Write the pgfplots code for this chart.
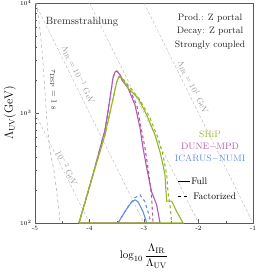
\documentclass[border=0pt]{standalone}
\usepackage{pgfplots}
\pgfplotsset{compat=1.18}
\definecolor{cship}{RGB}{150,184,40}
\definecolor{cdune}{RGB}{175,90,175}
\definecolor{cicar}{RGB}{100,140,230}
\definecolor{cframe}{RGB}{90,90,90}
\begin{document}
\begin{tikzpicture}
\begin{axis}[
  scale only axis, width=218pt, height=220pt,
  xmin=-5, xmax=-1, ymin=100, ymax=10000, ymode=log,
  xtick={-5,-4,-3,-2,-1}, xticklabels={-5,-4,-3,-2,-1},
  minor xtick={-4.5,-3.5,-2.5,-1.5},
  ytick={100,1000,10000},
  tick align=inside, major tick length=4pt, minor tick length=2pt,
  tick pos=left,
  axis line style={cframe, line width=0.5pt},
  every tick/.style={cframe, line width=0.4pt},
  tick label style={font=\fontsize{6.5}{7}\selectfont},
  xlabel={$\log_{10}\displaystyle\frac{\Lambda_{\rm IR}}{\Lambda_{\rm UV}}$},
  xlabel style={at={(axis description cs:0.5,-0.15)}, anchor=center, font=\fontsize{11}{13}\selectfont},
  ylabel={$\Lambda_{\rm UV}(\rm GeV)$},
  ylabel style={at={(axis description cs:-0.115,0.5)}, anchor=center, font=\fontsize{11.5}{13}\selectfont},
  clip=false,
]
% Lambda_IR = const lines
\addplot[gray!55, densely dashed, line width=0.4pt] coordinates {(-3,10000) (-1,100)};
\addplot[gray!55, densely dashed, line width=0.4pt] coordinates {(-4,10000) (-2,100)};
\addplot[gray!55, densely dashed, line width=0.4pt] coordinates {(-5,10000) (-3,100)};
\addplot[gray!55, densely dashed, line width=0.4pt] coordinates {(-5,1000) (-4,100)};
% tau_DSP line
\addplot[gray!75, dashed, line width=0.45pt, smooth] coordinates {
 (-4.975,10000) (-4.908,5690) (-4.853,2851) (-4.785,901) (-4.725,461)
 (-4.651,297) (-4.596,180) (-4.560,131) (-4.541,100)};
% ICARUS-NUMI
\addplot[cicar, line width=1.1pt] coordinates {
 (-3.477,100) (-3.349,127) (-3.226,156) (-3.165,162) (-3.110,156) (-3.018,127) (-2.950,100)};
\addplot[cicar, line width=1.1pt, dashed] coordinates {
 (-3.477,100) (-3.312,137) (-3.165,170) (-3.073,180) (-2.982,156) (-2.927,127) (-2.872,100)};
% DUNE-MPD
\addplot[cdune, line width=1.1pt] coordinates {
 (-4.193,100) (-3.954,256) (-3.716,700) (-3.679,901) (-3.624,1368) (-3.569,2080)
 (-3.532,2360) (-3.495,2410) (-3.440,2215) (-3.404,1995) (-3.294,1687) (-3.165,1183)
 (-3.073,731) (-3.018,481) (-2.950,316) (-2.859,191) (-2.767,146) (-2.706,100) (-4.193,100)};
\addplot[cdune, line width=1.1pt, dashed] coordinates {
 (-4.193,100) (-3.954,256) (-3.716,700) (-3.679,901) (-3.624,1368) (-3.569,2080)
 (-3.532,2360) (-3.495,2400) (-3.440,2215) (-3.385,1995) (-3.275,1687) (-3.134,1183)
 (-2.982,481) (-2.908,273) (-2.859,169) (-2.835,100)};
% SHiP
\addplot[cship, line width=1.1pt] coordinates {
 (-4.193,100) (-3.954,256) (-3.716,631) (-3.593,1183) (-3.501,1914) (-3.459,2138)
 (-3.404,2080) (-3.294,1687) (-3.110,1368) (-2.950,959) (-2.798,631) (-2.706,442)
 (-2.651,337) (-2.615,273) (-2.596,191) (-2.583,158) (-2.492,158) (-2.400,127)
 (-2.284,100) (-4.193,100)};
\addplot[cship, line width=1.1pt, dashed] coordinates {
 (-4.193,100) (-3.954,256) (-3.716,631) (-3.593,1183) (-3.501,1914) (-3.459,2138)
 (-3.367,1995) (-3.073,1313) (-2.890,901) (-2.743,593) (-2.651,415) (-2.583,273)
 (-2.560,191) (-2.523,146) (-2.492,100)};
% labels
\node[font=\fontsize{10.5}{12}\selectfont, black!85] at (rel axis cs:0.2156,0.9136) {Bremsstrahlung};
\node[font=\fontsize{9.3}{13.5}\selectfont, align=center, black!85] at (rel axis cs:0.803,0.870)
  {Prod.: Z portal\\Decay: Z portal\\Strongly coupled};
\node[font=\fontsize{9.3}{12}\selectfont, align=center] at (rel axis cs:0.803,0.345)
  {\textcolor{cship}{SHiP}\\\textcolor{cdune}{DUNE$-$MPD}\\\textcolor{cicar}{ICARUS$-$NUMI}};
\draw[black, line width=0.9pt] (rel axis cs:0.656,0.191) -- (rel axis cs:0.711,0.191);
\node[anchor=west, inner sep=0pt, font=\fontsize{9.5}{11}\selectfont] at (rel axis cs:0.716,0.191) {Full};
\draw[black, line width=0.9pt, dashed] (rel axis cs:0.656,0.1227) -- (rel axis cs:0.711,0.1227);
\node[anchor=west, inner sep=0pt, font=\fontsize{9.5}{11}\selectfont] at (rel axis cs:0.725,0.1227) {Factorized};
\node[rotate=-63.6, gray!80, font=\fontsize{8.5}{10}\selectfont] at (axis cs:-4.21,2213) {$\Lambda_{\rm IR} = 10^{-1}$ GeV};
\node[rotate=-63.6, gray!80, font=\fontsize{8.5}{10}\selectfont] at (axis cs:-2.101,1722) {$\Lambda_{\rm IR} = 10^{1}$ GeV};
\node[rotate=-63.6, gray!80, font=\fontsize{8.5}{10}\selectfont] at (axis cs:-4.413,316) {$10^{-2}$ GeV};
\node[rotate=-90, black!80, font=\fontsize{8.5}{10}\selectfont] at (axis cs:-4.661,1618) {$\tau_{\rm DSP} = 1$ s};
\end{axis}
\pgfresetboundingbox
\path[use as bounding box] ([shift={(-35pt,-54pt)}]current axis.south west) rectangle ([shift={(5pt,3pt)}]current axis.north east);
\end{tikzpicture}
\end{document}
